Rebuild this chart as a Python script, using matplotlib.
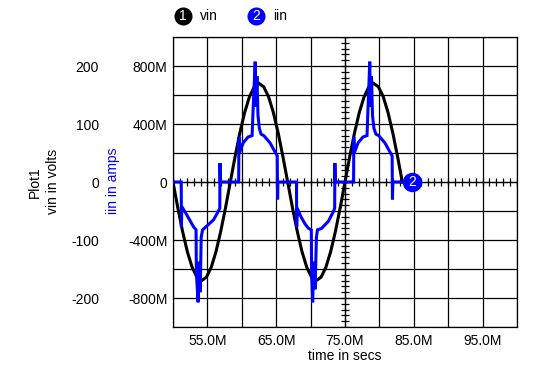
import numpy as np
import matplotlib
matplotlib.use("Agg")
import matplotlib.pyplot as plt
from matplotlib.lines import Line2D

plt.rcParams['font.family'] = ['Liberation Sans', 'DejaVu Sans']

# vin (volts), time in ms
vin_t = [50.00, 50.69, 51.39, 52.08, 52.78, 53.47, 54.17, 54.86, 55.56, 56.25,
         56.94, 57.64, 58.33, 59.03, 59.72, 60.42, 61.11, 61.81, 62.50, 63.19,
         63.89, 64.58, 65.28, 65.97, 66.67, 67.36, 68.06, 68.75, 69.44, 70.14,
         70.83, 71.53, 72.22, 72.92, 73.61, 74.31, 75.00, 75.69, 76.39, 77.08,
         77.78, 78.47, 79.17, 79.86, 80.56, 81.25, 81.94, 82.64, 83.33]
vin_v = [0, -44, -85, -120, -147, -164, -170, -164, -147, -120,
         -85, -44, 0, 44, 85, 120, 147, 164, 170, 164,
         147, 120, 85, 44, 0, -44, -85, -120, -147, -164,
         -170, -164, -147, -120, -85, -44, 0, 44, 85, 120,
         147, 164, 170, 164, 147, 120, 85, 44, 0]

# iin (amps)
iin_t = [50.0, 51.2, 51.22, 51.28, 51.8, 52.4, 53.0, 53.35, 53.4, 53.65,
         53.8, 53.95, 54.1, 54.3, 55.0, 55.9, 56.5, 56.8, 56.83, 56.88,
         59.55, 59.58, 59.65, 60.2, 60.9, 61.5, 61.6, 61.95, 62.05, 62.2,
         62.35, 62.55, 62.8, 63.2, 64.1, 64.8, 65.15, 65.2, 65.25,
         67.95, 67.98, 68.05, 68.6, 69.2, 69.7, 70.1, 70.15, 70.3, 70.45,
         70.65, 70.85, 71.0, 71.6, 72.6, 73.35, 73.5, 73.53, 73.58,
         76.25, 76.28, 76.35, 76.9, 77.6, 78.2, 78.3, 78.6, 78.7, 78.85,
         79.0, 79.2, 79.5, 79.9, 80.8, 81.5, 81.85, 81.9, 81.95, 83.33]
iin_a = [0, 0, -0.31, -0.17, -0.21, -0.26, -0.31, -0.33, -0.63, -0.83,
         -0.55, -0.76, -0.38, -0.33, -0.30, -0.26, -0.21, -0.18, 0.13, 0,
         0, 0.31, 0.20, 0.27, 0.31, 0.32, 0.45, 0.83, 0.52, 0.73,
         0.46, 0.37, 0.33, 0.32, 0.27, 0.21, 0.18, -0.12, 0,
         0, -0.31, -0.18, -0.24, -0.29, -0.32, -0.33, -0.63, -0.83, -0.55,
         -0.74, -0.38, -0.33, -0.32, -0.27, -0.20, -0.18, 0.13, 0,
         0, 0.31, 0.20, 0.27, 0.31, 0.32, 0.45, 0.83, 0.52, 0.73,
         0.46, 0.37, 0.33, 0.32, 0.27, 0.21, 0.18, -0.12, 0, 0]

xticks = [55, 65, 75, 85, 95]
xticklabels = ['55.0M', '65.0M', '75.0M', '85.0M', '95.0M']
vticks = [-200, -100, 0, 100, 200]
aticks = [-0.8, -0.4, 0, 0.4, 0.8]
aticklabels = ['-800M', '-400M', '0', '400M', '800M']

BLUE = '#0000ff'
W, H = 560, 374

fig = plt.figure(figsize=(5.6, 3.74), dpi=100)
ax = fig.add_axes([173 / W, 1 - 327 / H, 344 / W, 290 / H])
ax.set_xlim(50, 100)
ax.set_ylim(-250, 250)

# grid, 10 x 10 divisions
ax.set_xticks(np.arange(50, 101, 5))
ax.set_xticklabels(['' if t not in xticks else xticklabels[xticks.index(t)]
                    for t in range(50, 101, 5)])
ax.set_yticks(np.arange(-250, 251, 50))
ax.set_yticklabels(['' if v not in vticks else str(v) for v in range(-250, 251, 50)])
ax.grid(True, color='black', linewidth=0.9)
ax.tick_params(length=0, labelsize=10)
ax.tick_params(axis='y', pad=74 * 0.72)
ax.tick_params(axis='x', pad=5)
for s in ax.spines.values():
    s.set_linewidth(0.9)

# centre axes with small ticks
ax.axvline(75, color='black', lw=0.9)
ax.axhline(0, color='black', lw=0.9)
ax.plot(np.arange(50, 101, 1), np.zeros(51), ls='none', marker='|',
        ms=5.5, mew=0.9, color='black')
ax.plot(np.full(51, 75), np.arange(-250, 251, 10), ls='none', marker='_',
        ms=5.5, mew=0.9, color='black')

ax.plot(vin_t, vin_v, color='black', lw=2.2, solid_joinstyle='miter')

ax2 = ax.twinx()
ax2.set_ylim(-1, 1)
ax2.yaxis.tick_left()
ax2.set_yticks(aticks)
ax2.set_yticklabels(aticklabels)
ax2.tick_params(length=0, labelsize=10, pad=4)
for s in ax2.spines.values():
    s.set_visible(False)
ax2.plot(iin_t, iin_a, color=BLUE, lw=2.2, solid_joinstyle='miter')

# trace marker at the end of iin
ax2.plot([84.75], [0], marker='o', ms=13, color=BLUE, ls='none')
ax2.text(84.75, 0, '2', color='white', fontsize=10, ha='center', va='center')

ax.set_xlabel('time in secs', fontsize=10, labelpad=1)

fig.text(35 / W, 1 - 182 / H, 'Plot1', rotation=90, ha='center', va='center', fontsize=10)
fig.text(53 / W, 1 - 181 / H, 'vin in volts', rotation=90, ha='center', va='center', fontsize=10)
fig.text(113 / W, 1 - 181 / H, 'iin in amps', rotation=90, ha='center', va='center',
         fontsize=10, color=BLUE)

# legend on top
for cx, col, num, name in [(183, 'black', '1', 'vin'), (256, BLUE, '2', 'iin')]:
    fig.add_artist(Line2D([cx / W], [1 - 16 / H], marker='o', ms=12, color=col,
                          transform=fig.transFigure))
    fig.text(cx / W, 1 - 16.5 / H, num, color='white', fontsize=10, ha='center', va='center')
    fig.text((cx + 17) / W, 1 - 16 / H, name, fontsize=10, ha='left', va='center')

fig.savefig('out.png', dpi=100, facecolor='white')
